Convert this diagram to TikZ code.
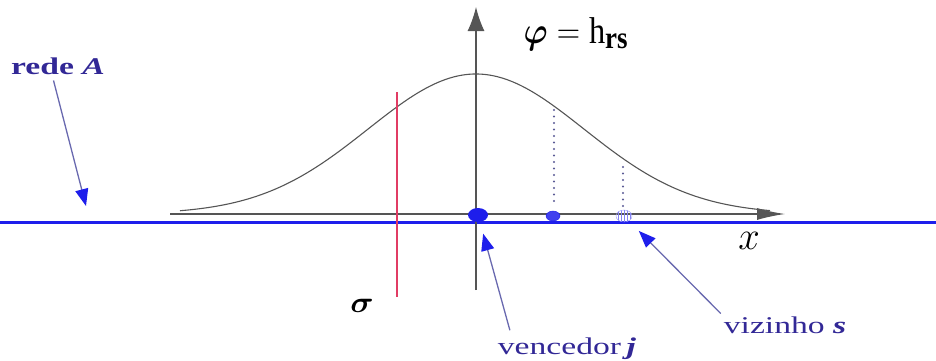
\documentclass[tikz,border=0pt]{standalone}
\usepackage{amsmath,amssymb,bm}
\usepackage{fontspec}
\setmainfont{Liberation Serif}
\usepackage{tikz}
\usetikzlibrary{arrows.meta,positioning,calc,shapes.geometric,patterns}
\definecolor{netblue}{RGB}{30,30,235}
\definecolor{labblue}{RGB}{50,40,150}
\definecolor{shaftblue}{RGB}{105,105,175}
\definecolor{axgray}{RGB}{85,85,85}
\definecolor{sigred}{RGB}{225,60,100}
\tikzset{
  lbl/.style={text=labblue, inner sep=0pt, font=\fontsize{24}{26}\selectfont, xscale=1.4, transform shape},
  sym/.style={inner sep=0pt, font=\fontsize{24.88}{27}\selectfont, transform shape},
  ax/.style={axgray, line width=1.3pt},
  net/.style={netblue, line width=3pt},
  ptr/.style={shaftblue, line width=1.3pt, -{Triangle[length=17pt,width=13pt,color=netblue]}},
  unit/.style={ellipse, inner sep=0pt},
  drop/.style={shaftblue!85!black, line width=2.2pt, line cap=round, dash pattern=on 0pt off 6.5pt},
}

\begin{document}
\begin{tikzpicture}[x=1pt, y=-1pt]
  \useasboundingbox (0,0) rectangle (936,360);
  \coordinate (xstart) at (170,214);
  \coordinate (xend) at (785,214);
  \coordinate (ybase) at (476,290);
  \coordinate (ytop) at (476,7);
  \coordinate (netpt) at (86,206);
  \draw[net] (0,222) -- (936,222);
  \draw[ax, -{Latex[length=28pt,width=12pt]}] (xstart) -- (xend);
  \draw[ax, -{Latex[length=24pt,width=17pt]}] (ybase) -- (ytop);
  \draw[ax, line width=1.1pt] plot[domain=180:770, samples=150, smooth]
    (\x, {214-140*exp(-0.5*((\x-476)/108)*((\x-476)/108))});
  \draw[sigred, line width=1.3pt] (397,92) -- (397,297);
  \draw[drop] (554,110) -- (554,207);
  \draw[drop] (623,167) -- (623,207);
  \node[unit, fill=netblue, minimum width=20pt, minimum height=14pt] (winner) at (478,215) {};
  \node[unit, draw=netblue, fill=netblue!85, minimum width=14pt, minimum height=10pt] (nbrr) at (553,216) {};
  \node[unit, draw=netblue!45, pattern=vertical lines, pattern color=netblue!55, minimum width=16pt, minimum height=12pt] (nbrs) at (624,216) {};
  \node[sym, xscale=1.3, yscale=1.5] (phi) at (576,34) {$\boldsymbol{\varphi} = \mathrm{h}_{\mathbf{rs}}$};
  \node[sym, xscale=1.3, yscale=1.2] (sig) at (362,306) {$\boldsymbol{\sigma}$};
  \node[sym, xscale=1.55, yscale=1.6] (xlbl) at (749,241) {$x$};
  \node[lbl] (netlbl) at (58,66) {\textbf{rede \textit{A}}};
  \node[lbl] (winlbl) at (567,349) {vencedor\,\textbf{\textit{j}}};
  \node[lbl] (nbrlbl) at (785,325) {vizinho \textbf{\textit{s}}};
  \draw[ptr, shorten <=6pt] ([xshift=-6pt]netlbl.south) -- (netpt);
  \draw[ptr, shorten <=8pt, shorten >=12pt] ([xshift=-55pt]winlbl.north) -- (winner);
  \draw[ptr, shorten <=4pt, shorten >=14pt] (nbrlbl.north west) -- (nbrs);
\end{tikzpicture}
\end{document}
